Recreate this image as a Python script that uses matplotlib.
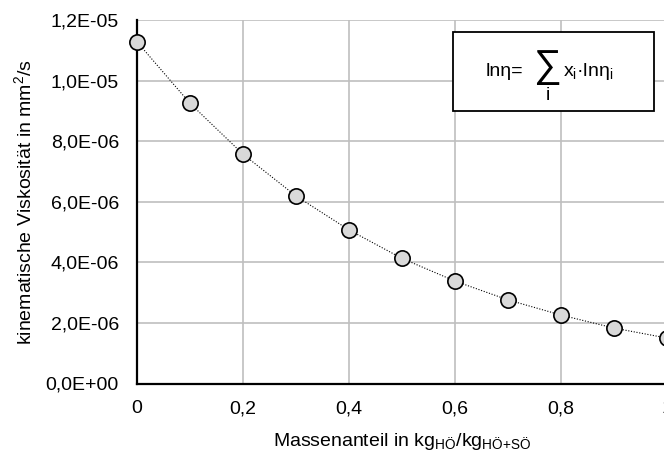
import matplotlib
matplotlib.use("Agg")
import matplotlib.pyplot as plt
from matplotlib.patches import Rectangle
from matplotlib.ticker import FuncFormatter

plt.rcParams['font.family'] = ['Liberation Sans', 'DejaVu Sans']
plt.rcParams['mathtext.fontset'] = 'custom'
plt.rcParams['mathtext.rm'] = 'Liberation Sans'
plt.rcParams['mathtext.it'] = 'Liberation Sans'
plt.rcParams['mathtext.bf'] = 'Liberation Sans:bold'

mass_fraction = [0.0, 0.1, 0.2, 0.3, 0.4, 0.5, 0.6, 0.7, 0.8, 0.9, 1.0]
viscosity = [1.128e-5, 9.25e-6, 7.57e-6, 6.19e-6, 5.07e-6, 4.13e-6,
             3.38e-6, 2.76e-6, 2.26e-6, 1.83e-6, 1.50e-6]
x_ticks = [0.0, 0.2, 0.4, 0.6, 0.8, 1.0]
y_ticks = [0.0, 2e-6, 4e-6, 6e-6, 8e-6, 1.0e-5, 1.2e-5]

W, H = 664, 453
fig = plt.figure(figsize=(W / 100, H / 100), dpi=100)
ax = fig.add_axes([137 / W, 69.5 / H, 530 / W, 363.5 / H])


def px(x, y):
    return x / W, 1 - y / H


ax.plot(mass_fraction, viscosity, color='black', linewidth=0.8,
        linestyle=(0, (1, 1.5)), marker='o', markersize=11,
        markerfacecolor='#D9D9D9', markeredgecolor='black',
        markeredgewidth=1.2, clip_on=False, zorder=5)

ax.set_xlim(0, 1)
ax.set_ylim(0, 1.2e-5)
ax.set_xticks(x_ticks)
ax.set_yticks(y_ticks)
ax.xaxis.set_major_formatter(FuncFormatter(lambda v, p: f"{v:g}".replace('.', ',')))
ax.yaxis.set_major_formatter(FuncFormatter(lambda v, p: f"{v:.1E}".replace('.', ',')))
ax.tick_params(axis='both', length=0, labelsize=14, colors='black')
ax.tick_params(axis='y', pad=13)
ax.tick_params(axis='x', pad=12)

ax.grid(True, color='#BFBFBF', linewidth=1.2)
ax.set_axisbelow(True)
for s in ['top', 'right']:
    ax.spines[s].set_visible(False)
for s in ['left', 'bottom']:
    ax.spines[s].set_linewidth(1.6)
    ax.spines[s].set_color('black')
    ax.spines[s].set_zorder(4)

fig.text(*px(24, 202), 'kinematische Viskosität in mm$^{2}$/s', fontsize=14,
         rotation=90, ha='center', va='center')
fig.text(*px(402, 441), r'Massenanteil in kg$_{\mathrm{HÖ}}$/kg$_{\mathrm{HÖ{+}SÖ}}$',
         fontsize=14, ha='center', va='center')

rect = Rectangle(px(453, 111), (654 - 453) / W, (111 - 31.5) / H,
                 transform=fig.transFigure, facecolor='white', edgecolor='black',
                 linewidth=1.3, zorder=6)
fig.patches.append(rect)
fig.text(*px(504.5, 71), 'lnη=', fontsize=14, ha='center', va='center', zorder=7)
fig.text(*px(546.5, 67), '∑', fontsize=28, ha='center', va='center', zorder=7)
fig.text(*px(548, 96), 'i', fontsize=14, ha='center', va='center', zorder=7)
fig.text(*px(563, 71), r'x$_{\mathrm{i}}$·lnη$_{\mathrm{i}}$', fontsize=14,
         ha='left', va='center', zorder=7)

fig.savefig('out.png', dpi=100)
